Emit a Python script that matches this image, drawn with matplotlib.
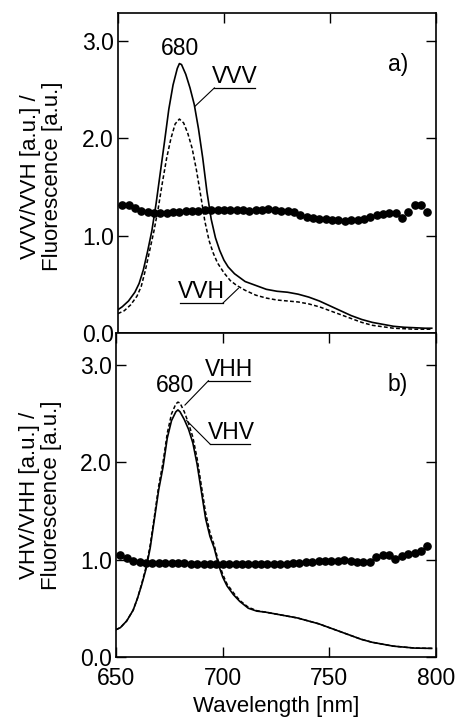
import matplotlib
matplotlib.use("Agg")
import matplotlib.pyplot as plt

plt.rcParams['font.family'] = ['Liberation Sans', 'DejaVu Sans']

# ---- panel a) ----
vvv_x = [650, 652, 655, 658, 660, 662, 664, 666, 668, 670, 672, 674, 676, 678, 679, 680,
         682, 684, 686, 688, 690, 692, 694, 696, 698, 700, 702, 705, 710, 715, 720, 725,
         730, 735, 740, 745, 750, 755, 760, 765, 770, 775, 780, 785, 790, 795, 798]
vvv_y = [0.24, 0.27, 0.33, 0.42, 0.51, 0.65, 0.84, 1.05, 1.33, 1.65, 1.97, 2.30, 2.55, 2.72, 2.77, 2.76,
         2.66, 2.52, 2.35, 2.10, 1.80, 1.45, 1.17, 0.98, 0.85, 0.75, 0.68, 0.61, 0.53, 0.49, 0.45, 0.43,
         0.42, 0.40, 0.37, 0.33, 0.28, 0.23, 0.18, 0.14, 0.11, 0.09, 0.07, 0.06, 0.055, 0.05, 0.05]

vvh_x = [650, 653, 656, 659, 661, 663, 665, 667, 669, 671, 673, 675, 677, 679, 681, 683,
         685, 687, 689, 691, 693, 695, 697, 700, 703, 706, 710, 715, 720, 725, 730, 735,
         740, 745, 750, 755, 760, 765, 770, 775, 780, 785, 790, 795, 798]
vvh_y = [0.20, 0.23, 0.29, 0.38, 0.48, 0.65, 0.85, 1.05, 1.28, 1.55, 1.80, 2.00, 2.15, 2.20, 2.16, 2.05,
         1.90, 1.68, 1.42, 1.15, 0.95, 0.82, 0.72, 0.62, 0.54, 0.49, 0.44, 0.39, 0.36, 0.34, 0.33, 0.32,
         0.30, 0.27, 0.23, 0.19, 0.15, 0.11, 0.08, 0.065, 0.05, 0.045, 0.04, 0.04, 0.04]

ratio_x = list(range(652, 797, 3))
ratio_a = [1.32, 1.32, 1.29, 1.26, 1.245, 1.235, 1.23, 1.235, 1.24, 1.245, 1.25, 1.255, 1.26,
           1.262, 1.265, 1.268, 1.27, 1.27, 1.268, 1.262, 1.26, 1.262, 1.268, 1.278, 1.27,
           1.26, 1.25, 1.24, 1.21, 1.19, 1.18, 1.175, 1.17, 1.165, 1.16, 1.155, 1.165, 1.16,
           1.17, 1.19, 1.21, 1.22, 1.23, 1.234, 1.18, 1.24, 1.32, 1.32, 1.24]

# ---- panel b) ----
vhv_x = [650, 652, 655, 658, 660, 662, 664, 666, 668, 670, 672, 674, 676, 678, 679, 680,
         682, 684, 686, 688, 690, 692, 694, 696, 698, 700, 702, 705, 708, 712, 716, 720,
         725, 730, 735, 740, 745, 750, 755, 760, 765, 770, 775, 780, 785, 790, 795, 798]
vhv_y = [0.28, 0.30, 0.37, 0.48, 0.60, 0.74, 0.90, 1.12, 1.42, 1.72, 1.95, 2.25, 2.43, 2.52, 2.54, 2.52,
         2.44, 2.34, 2.20, 1.98, 1.70, 1.42, 1.24, 1.12, 0.95, 0.82, 0.73, 0.64, 0.57, 0.50, 0.47, 0.46,
         0.44, 0.42, 0.40, 0.37, 0.34, 0.30, 0.26, 0.22, 0.18, 0.15, 0.13, 0.11, 0.10, 0.09, 0.088, 0.087]

vhh_x = [650, 652, 655, 658, 660, 662, 664, 666, 668, 670, 672, 674, 676, 678, 679, 680,
         682, 684, 686, 688, 690, 692, 694, 696, 698, 700, 702, 705, 708, 712, 716, 720,
         725, 730, 735, 740, 745, 750, 755, 760, 765, 770, 775, 780, 785, 790, 795, 798]
vhh_y = [0.28, 0.30, 0.37, 0.48, 0.60, 0.75, 0.92, 1.15, 1.45, 1.76, 2.00, 2.30, 2.50, 2.60, 2.62, 2.61,
         2.52, 2.40, 2.26, 2.04, 1.76, 1.48, 1.28, 1.15, 0.98, 0.85, 0.75, 0.66, 0.58, 0.51, 0.475, 0.46,
         0.44, 0.42, 0.40, 0.37, 0.34, 0.30, 0.26, 0.22, 0.18, 0.15, 0.13, 0.11, 0.10, 0.09, 0.088, 0.087]

ratio_b = [1.05, 1.02, 0.99, 0.975, 0.97, 0.97, 0.97, 0.97, 0.97, 0.965, 0.965, 0.96, 0.96,
           0.96, 0.96, 0.955, 0.955, 0.955, 0.95, 0.95, 0.955, 0.955, 0.955, 0.95, 0.955,
           0.96, 0.96, 0.965, 0.97, 0.975, 0.98, 0.985, 0.99, 0.985, 0.99, 0.995, 0.985, 0.98,
           0.975, 0.98, 1.03, 1.05, 1.045, 1.01, 1.035, 1.06, 1.07, 1.085, 1.14]

yticks = [0.0, 1.0, 2.0, 3.0]
ytick_labels = ['0.0', '1.0', '2.0', '3.0']
xticks = [650, 700, 750, 800]

FS = 16.5   # tick labels and annotations
LFS = 16    # axis labels


def style_axes(ax, ymax, show_bottom):
    ax.set_xlim(650, 800)
    ax.set_ylim(0, ymax)
    ax.set_yticks(yticks)
    ax.set_yticklabels(ytick_labels)
    ax.set_xticks(xticks)
    ax.tick_params(direction='in', length=7, width=1.0, labelsize=FS,
                   top=True, right=True, bottom=show_bottom,
                   labelbottom=show_bottom)
    ax.tick_params(axis='y', pad=3)
    ax.tick_params(axis='x', pad=7)
    for s in ax.spines.values():
        s.set_linewidth(1.2)


def label_with_leader(ax, text, tx, ty, ux0, ux1, uy, lx, ly, side):
    ax.text(tx, ty, text, fontsize=FS, ha='center', va='center')
    ax.plot([ux0, ux1], [uy, uy], color='black', lw=0.9)
    x_start = ux0 if side == 'left' else ux1
    ax.plot([x_start, lx], [uy, ly], color='black', lw=0.8)


fig = plt.figure(figsize=(4.57, 7.21), dpi=100)
ax1 = fig.add_axes([0.258, 0.538, 0.696, 0.444])
ax2 = fig.add_axes([0.254, 0.089, 0.700, 0.449])

# panel a
ax1.plot(vvv_x, vvv_y, color='black', lw=1.2)
ax1.plot(vvh_x, vvh_y, color='black', lw=1.1, ls=(0, (2.5, 1.5)))
ax1.plot(ratio_x, ratio_a, 'o', color='black', ms=5.2)
style_axes(ax1, 3.29, False)
ax1.text(679.5, 2.92, '680', fontsize=FS, ha='center', va='center')
label_with_leader(ax1, 'VVV', 705, 2.64, 695.5, 714.6, 2.52, 686.3, 2.33, 'left')
label_with_leader(ax1, 'VVH', 689.5, 0.43, 679.5, 699.6, 0.31, 706.8, 0.46, 'right')
ax1.text(782, 2.76, 'a)', fontsize=FS, ha='center', va='center')
ax1.set_ylabel('VVV/VVH [a.u.] /\nFluorescence [a.u.]', fontsize=LFS, linespacing=1.05)
ax1.yaxis.set_label_coords(-0.172, 0.49)

# panel b
ax2.plot(vhv_x, vhv_y, color='black', lw=1.2)
ax2.plot(vhh_x, vhh_y, color='black', lw=1.1, ls=(0, (2.5, 1.5)))
ax2.plot(ratio_x, ratio_b, 'o', color='black', ms=5.2)
style_axes(ax2, 3.33, True)
ax2.text(677.7, 2.79, '680', fontsize=FS, ha='center', va='center')
label_with_leader(ax2, 'VHH', 703, 2.96, 693.3, 712.8, 2.84, 682.3, 2.59, 'left')
label_with_leader(ax2, 'VHV', 704, 2.31, 694, 712.8, 2.19, 683.1, 2.43, 'left')
ax2.text(782, 2.80, 'b)', fontsize=FS, ha='center', va='center')
ax2.set_ylabel('VHV/VHH [a.u.] /\nFluorescence [a.u.]', fontsize=LFS, linespacing=1.05)
ax2.yaxis.set_label_coords(-0.169, 0.5)
ax2.set_xlabel('Wavelength [nm]', fontsize=LFS, labelpad=5)

fig.savefig('out.png', dpi=100)
